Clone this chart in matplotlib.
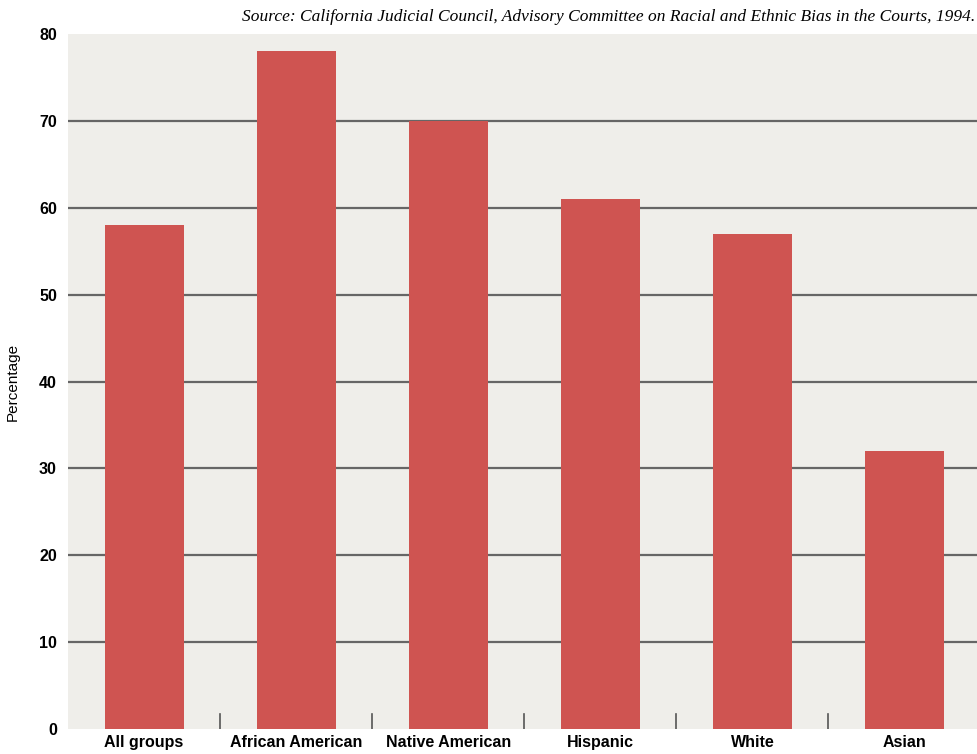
import matplotlib.pyplot as plt
import numpy as np

groups = ['All groups', 'African American', 'Native American', 'Hispanic', 'White', 'Asian']
percent = [58, 78, 70, 61, 57, 32]
yticks = [0, 10, 20, 30, 40, 50, 60, 70, 80]
source = 'Source: California Judicial Council, Advisory Committee on Racial and Ethnic Bias in the Courts, 1994.'

bar_color = '#cf5451'
bg_color = '#efeeea'

fig = plt.figure(figsize=(9.77, 7.54), dpi=100)
# axes runs a little past the right edge, like the original
ax = fig.add_axes([68 / 977, 25 / 754, (980.5 - 68) / 977, (729 - 34) / 754])
ax.set_facecolor(bg_color)

x = np.arange(len(groups))
ax.bar(x, percent, width=0.52, color=bar_color, zorder=3)

ax.set_xlim(-0.5, len(groups) - 0.5)
ax.set_ylim(0, 80)
ax.set_yticks(yticks)
for y in yticks[1:-1]:
    ax.axhline(y, color='#666666', lw=1.6, zorder=2)

# little separators between the groups
for sep in x[:-1] + 0.5:
    ax.plot([sep, sep], [0, 1.7], color='#555555', lw=1.2, zorder=2)

for s in ax.spines.values():
    s.set_visible(False)
ax.tick_params(axis='both', length=0)
ax.set_xticks(x)
ax.set_xticklabels(groups, fontsize=11.5, fontweight='bold', family='Liberation Sans')
ax.tick_params(axis='x', pad=4)
ax.tick_params(axis='y', pad=8)
for lab in ax.get_yticklabels():
    lab.set_fontsize(11.5)
    lab.set_fontweight('bold')
    lab.set_family('Liberation Sans')

ax.set_ylabel('Percentage', fontsize=11, family='Liberation Sans', labelpad=14)

fig.text(975 / 977, 1 - 17 / 754, source, ha='right', va='center',
         fontsize=12.5, style='italic', family='Liberation Serif')

fig.savefig('out.png', dpi=100)
